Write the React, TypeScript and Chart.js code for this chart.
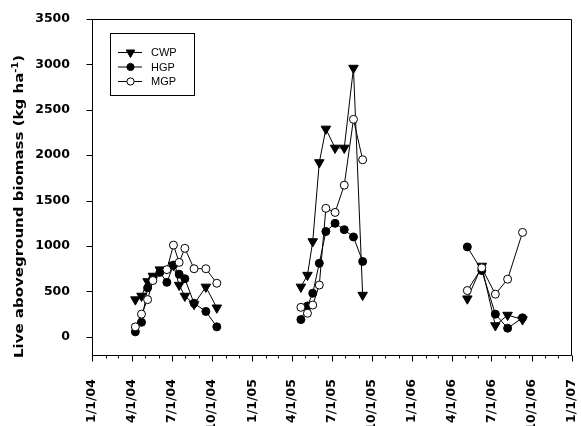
import React, { useEffect, useRef } from 'react';
import { Chart, registerables } from 'chart.js';

Chart.register(...registerables);

const SERIES = ['CWP', 'HGP', 'MGP'];

const cwpDates = [
  '2004-04-09', '2004-04-23', '2004-05-07', '2004-05-19', '2004-06-04', '2004-07-05',
  '2004-07-18', '2004-07-31', '2004-08-21', '2004-09-17', '2004-10-12',
  '2005-04-22', '2005-05-07', '2005-05-19', '2005-06-03', '2005-06-18', '2005-07-09',
  '2005-07-30', '2005-08-20', '2005-09-10',
  '2006-05-07', '2006-06-09', '2006-07-10', '2006-08-07', '2006-09-10',
];
const cwpValues = [
  410, 450, 610, 670, 740, 790, 570, 450, 360, 550, 320,
  550, 680, 1050, 1920, 2290, 2080, 2080, 2960, 460,
  420, 780, 125, 240, 190,
];

const hgpDates = [
  '2004-04-09', '2004-04-23', '2004-05-07', '2004-05-19', '2004-06-04', '2004-06-20',
  '2004-07-05', '2004-07-18', '2004-07-31', '2004-08-21', '2004-09-17', '2004-10-12',
  '2005-04-22', '2005-05-07', '2005-05-19', '2005-06-03', '2005-06-18', '2005-07-09',
  '2005-07-30', '2005-08-20', '2005-09-10',
  '2006-05-07', '2006-06-09', '2006-07-10', '2006-08-07', '2006-09-10',
];
const hgpValues = [
  55, 160, 540, 650, 710, 600, 790, 690, 640, 370, 280, 110,
  190, 340, 480, 810, 1160, 1250, 1180, 1100, 830,
  990, 730, 250, 95, 210,
];

const mgpDates = [
  '2004-04-09', '2004-04-23', '2004-05-07', '2004-05-19', '2004-06-20', '2004-07-05',
  '2004-07-18', '2004-07-31', '2004-08-21', '2004-09-17', '2004-10-12',
  '2005-04-22', '2005-05-07', '2005-05-19', '2005-06-03', '2005-06-18', '2005-07-09',
  '2005-07-30', '2005-08-20', '2005-09-10',
  '2006-05-07', '2006-06-09', '2006-07-10', '2006-08-07', '2006-09-10',
];
const mgpValues = [
  110, 250, 410, 620, 740, 1010, 820, 975, 750, 750, 590,
  325, 260, 350, 570, 1415, 1370, 1670, 2395, 1950,
  510, 760, 470, 635, 1150,
];

const yTickValues = [0, 500, 1000, 1500, 2000, 2500, 3000, 3500];
const quarterLabels = [
  '1/1/04', '4/1/04', '7/1/04', '10/1/04', '1/1/05', '4/1/05', '7/1/05',
  '10/1/05', '1/1/06', '4/1/06', '7/1/06', '10/1/06', '1/1/07',
];
const yTitleMain = 'Live aboveground biomass (kg ha';
const yTitleSup = '-1';
const yTitleEnd = ')';

const ORIGIN = Date.UTC(2004, 0, 1);
const DAY = 86400000;
const toDay = (iso: string) => {
  const [y, m, d] = iso.split('-').map(Number);
  return (Date.UTC(y, m - 1, d) - ORIGIN) / DAY;
};
const labelToDay = (lbl: string) => {
  const [m, d, yy] = lbl.split('/').map(Number);
  return (Date.UTC(2000 + yy, m - 1, d) - ORIGIN) / DAY;
};

function buildPoints(dates: string[], values: number[]) {
  const pts: { x: number; y: number | null }[] = [];
  for (let i = 0; i < dates.length; i++) {
    const x = toDay(dates[i]);
    if (i > 0 && x - toDay(dates[i - 1]) > 100) pts.push({ x: x - 1, y: null });
    pts.push({ x, y: values[i] });
  }
  return pts;
}

const majorDays = quarterLabels.map(labelToDay);
const labelByDay: Record<number, string> = {};
quarterLabels.forEach((l, i) => (labelByDay[majorDays[i]] = l));
const monthDays: number[] = [];
for (let y = 2004; y <= 2006; y++) for (let m = 0; m < 12; m++) monthDays.push((Date.UTC(y, m, 1) - ORIGIN) / DAY);
monthDays.push(labelToDay('1/1/07'));

const FONT = '"DejaVu Sans", sans-serif';

const framePlugin = {
  id: 'frameTicks',
  afterDraw(chart: any) {
    const { ctx, chartArea, scales } = chart;
    const { left, right, top, bottom } = chartArea;
    const xs = scales.x;
    const ys = scales.y;
    ctx.save();
    ctx.strokeStyle = '#000';
    ctx.lineWidth = 1;
    const L = Math.round(left) + 0.5;
    const R = Math.round(right) - 0.5;
    const T = Math.round(top) + 0.5;
    const B = Math.round(bottom) + 0.5;
    ctx.beginPath();
    ctx.rect(L, T, R - L, B - T);
    ctx.stroke();
    ctx.beginPath();
    monthDays.forEach((d) => {
      const px = Math.round(xs.getPixelForValue(d)) + 0.5;
      const len = labelByDay[d] ? 6 : 3;
      ctx.moveTo(px, B);
      ctx.lineTo(px, B + len);
    });
    yTickValues.forEach((v) => {
      const py = Math.round(ys.getPixelForValue(v)) + 0.5;
      ctx.moveTo(L, py);
      ctx.lineTo(L - 6, py);
    });
    ctx.stroke();
    ctx.restore();
  },
};

const legendPlugin = {
  id: 'legendBox',
  afterDraw(chart: any) {
    const { ctx } = chart;
    ctx.save();
    ctx.strokeStyle = '#000';
    ctx.lineWidth = 1;
    ctx.strokeRect(110.5, 33.5, 84, 62);
    const rows = [52.5, 67, 81.5];
    SERIES.forEach((name, i) => {
      const y = rows[i];
      ctx.beginPath();
      ctx.moveTo(118, y);
      ctx.lineTo(142, y);
      ctx.stroke();
      const cx = 130.5;
      ctx.beginPath();
      if (i === 0) {
        const r = 5;
        ctx.moveTo(cx, y + r);
        ctx.lineTo(cx - r * 0.866, y - r / 2);
        ctx.lineTo(cx + r * 0.866, y - r / 2);
        ctx.closePath();
        ctx.fillStyle = '#000';
        ctx.fill();
        ctx.stroke();
      } else {
        ctx.arc(cx, y, 3.6, 0, Math.PI * 2);
        ctx.fillStyle = i === 1 ? '#000' : '#fff';
        ctx.fill();
        ctx.stroke();
      }
      ctx.fillStyle = '#000';
      ctx.font = '11px "Liberation Sans", Arial, sans-serif';
      ctx.textBaseline = 'middle';
      ctx.textAlign = 'left';
      ctx.fillText(name, 151, y + 0.5);
    });
    ctx.restore();
  },
};

const yTitlePlugin = {
  id: 'yTitle',
  afterDraw(chart: any) {
    const { ctx } = chart;
    ctx.save();
    ctx.translate(18.5, 206.5);
    ctx.rotate(-Math.PI / 2);
    const mainFont = `bold 13px ${FONT}`;
    const supFont = `bold 8.5px ${FONT}`;
    ctx.font = mainFont;
    const w1 = ctx.measureText(yTitleMain).width;
    const w3 = ctx.measureText(yTitleEnd).width;
    ctx.font = supFont;
    const w2 = ctx.measureText(yTitleSup).width;
    const total = w1 + w2 + w3;
    const s = 303 / total;
    ctx.scale(s, 1);
    const x0 = -total / 2;
    ctx.fillStyle = '#000';
    ctx.textBaseline = 'alphabetic';
    ctx.textAlign = 'left';
    ctx.font = mainFont;
    ctx.fillText(yTitleMain, x0, 4.5);
    ctx.font = supFont;
    ctx.fillText(yTitleSup, x0 + w1, -1);
    ctx.font = mainFont;
    ctx.fillText(yTitleEnd, x0 + w1 + w2, 4.5);
    ctx.restore();
  },
};

export default function App() {
  const ref = useRef<HTMLCanvasElement>(null);
  useEffect(() => {
    const lineCommon = {
      borderColor: '#000',
      borderWidth: 1,
      pointBorderColor: '#000',
      pointBorderWidth: 1,
      tension: 0,
      spanGaps: false,
      fill: false,
    };
    const chart = new Chart(ref.current as HTMLCanvasElement, {
      type: 'line',
      data: {
        datasets: [
          {
            ...lineCommon,
            label: SERIES[2],
            data: buildPoints(mgpDates, mgpValues),
            pointStyle: 'circle',
            pointRadius: 4,
            pointBackgroundColor: '#fff',
          },
          {
            ...lineCommon,
            label: SERIES[1],
            data: buildPoints(hgpDates, hgpValues),
            pointStyle: 'circle',
            pointRadius: 4,
            pointBackgroundColor: '#000',
          },
          {
            ...lineCommon,
            label: SERIES[0],
            data: buildPoints(cwpDates, cwpValues),
            pointStyle: 'triangle',
            pointRadius: 5.5,
            pointRotation: 180,
            pointBackgroundColor: '#000',
          },
        ] as any,
      },
      options: {
        animation: false,
        responsive: false,
        devicePixelRatio: 1,
        layout: { padding: { top: 19, right: 9, left: 0, bottom: 0 } },
        plugins: { legend: { display: false }, tooltip: { enabled: false } },
        scales: {
          x: {
            type: 'linear',
            min: 0,
            max: labelToDay('1/1/07'),
            grid: { display: false },
            border: { display: false },
            afterBuildTicks: (scale: any) => {
              scale.ticks = monthDays.map((v) => ({ value: v }));
            },
            afterFit: (scale: any) => {
              scale.height = 71;
              scale.paddingLeft = 0;
              scale.paddingRight = 0;
            },
            ticks: {
              autoSkip: false,
              minRotation: 90,
              maxRotation: 90,
              padding: 16,
              color: '#000',
              font: { family: FONT, size: 12.5, weight: 'bold' },
              callback: (value: any) => labelByDay[value as number] ?? '',
            },
          },
          y: {
            type: 'linear',
            min: -200,
            max: 3500,
            grid: { display: false },
            border: { display: false },
            afterBuildTicks: (scale: any) => {
              scale.ticks = yTickValues.map((v) => ({ value: v }));
            },
            afterFit: (scale: any) => {
              scale.width = 92;
              scale.paddingTop = 0;
              scale.paddingBottom = 0;
            },
            ticks: {
              padding: 14,
              color: '#000',
              font: { family: FONT, size: 12.5, weight: 'bold' },
              callback: (value: any) => String(value),
            },
          },
        },
      } as any,
      plugins: [framePlugin, legendPlugin, yTitlePlugin],
    });
    return () => chart.destroy();
  }, []);
  return (
    <div style={{ position: 'absolute', left: 0, top: 0, width: 581, height: 426, background: '#fff' }}>
      <canvas ref={ref} width={581} height={426} style={{ display: 'block', width: 581, height: 426 }} />
    </div>
  );
}
